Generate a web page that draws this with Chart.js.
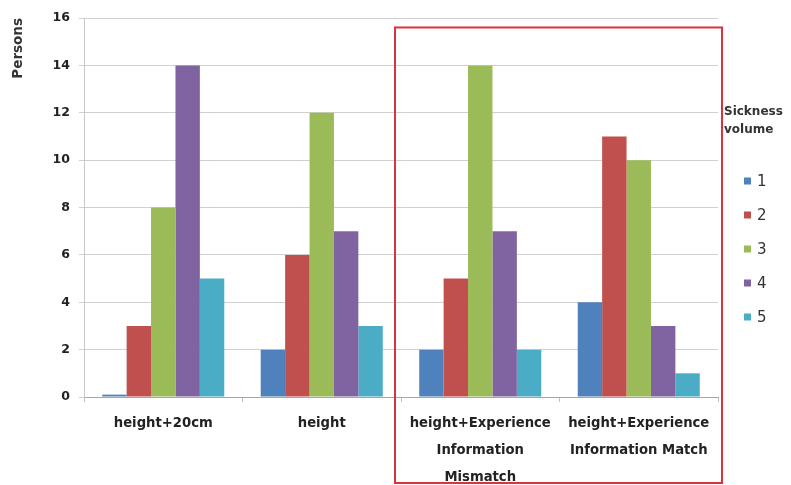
<!DOCTYPE html>
<html>
<head>
<meta charset="utf-8">
<script src="https://cdn.jsdelivr.net/npm/chart.js@4/dist/chart.umd.min.js"></script>
<style>
  html, body { margin: 0; padding: 0; background: #fff; }
  #wrap { width: 791px; height: 485px; position: relative; }
</style>
</head>
<body>
<div id="wrap"><canvas id="c" width="791" height="485"></canvas></div>
<script>
// Groups along the x axis (multi-line labels)
const categories = [
  ['height+20cm'],
  ['height'],
  ['height+Experience', 'Information', 'Mismatch'],
  ['height+Experience', 'Information Match']
];
// Sickness volume levels
const seriesNames = ['1', '2', '3', '4', '5'];
const seriesColors = ['#4F81BD', '#C0504D', '#9BBB59', '#8064A2', '#4BACC6'];
// Number of persons per level, one array per level
const level1 = [0.1, 2, 2, 4];
const level2 = [3, 6, 5, 11];
const level3 = [8, 12, 14, 10];
const level4 = [14, 7, 7, 3];
const level5 = [5, 3, 2, 1];
const yTicks = [0, 2, 4, 6, 8, 10, 12, 14, 16];

const seriesValues = [level1, level2, level3, level4, level5];
const labelFont = "'DejaVu Sans', 'Noto Sans', sans-serif";

// Red frame around the two experience-information groups, plus the side legend
const extras = {
  id: 'extras',
  afterDraw(chart) {
    const ctx = chart.ctx;
    const x = chart.scales.x, y = chart.scales.y;
    const area = chart.chartArea;
    ctx.save();
    // frame
    const left = x.getPixelForValue(1.5) - 6;
    const right = area.right + 4;
    const top = y.getPixelForValue(15.6);
    const bottom = chart.height - 2;
    ctx.strokeStyle = '#D9343C';
    ctx.lineWidth = 2;
    ctx.strokeRect(left, top, right - left, bottom - top);
    // legend title
    ctx.fillStyle = '#333';
    ctx.font = "bold 12px " + labelFont;
    ctx.textBaseline = 'middle';
    ctx.textAlign = 'left';
    ctx.fillText('Sickness', 724, 112);
    ctx.fillText('volume', 724, 130);
    // legend entries
    ctx.font = "15px " + labelFont;
    seriesNames.forEach((n, i) => {
      const cy = 181 + i * 34;
      ctx.fillStyle = seriesColors[i];
      ctx.fillRect(744, cy - 3.5, 7, 7);
      ctx.fillStyle = '#333';
      ctx.fillText(n, 757, cy + 1);
    });
    ctx.restore();
  }
};

new Chart(document.getElementById('c'), {
  type: 'bar',
  data: {
    labels: categories,
    datasets: seriesNames.map((n, i) => ({
      label: n,
      data: seriesValues[i],
      backgroundColor: seriesColors[i],
      borderWidth: 0,
      categoryPercentage: 0.77,
      barPercentage: 1
    }))
  },
  options: {
    responsive: false,
    animation: false,
    devicePixelRatio: 1,
    layout: { padding: { top: 18, right: 73, left: 0, bottom: 0 } },
    plugins: {
      legend: { display: false },
      tooltip: { enabled: false }
    },
    scales: {
      x: {
        grid: {
          offset: true,
          drawOnChartArea: false,
          drawTicks: true,
          tickLength: 5,
          color: '#BFBFBF'
        },
        border: { color: '#A6A6A6', width: 1 },
        ticks: {
          color: '#222',
          font: { family: labelFont, size: 13.2, weight: 'bold', lineHeight: 2.05 },
          padding: 8,
          maxRotation: 0,
          autoSkip: false
        },
        afterFit(s) { s.height = 88; }
      },
      y: {
        min: 0,
        max: 16,
        afterBuildTicks(s) { s.ticks = yTicks.map(v => ({ value: v })); },
        grid: { color: '#D0D0D0', tickLength: 5 },
        border: { color: '#C8C8C8', width: 1 },
        ticks: {
          color: '#222',
          font: { family: labelFont, size: 12.5, weight: 'bold' },
          padding: 9
        },
        title: {
          display: true,
          text: 'Persons',
          align: 'end',
          color: '#333',
          font: { family: labelFont, size: 13.5, weight: 'bold' },
          padding: { top: 10, bottom: 0 }
        },
        afterFit(s) { s.width = 84; }
      }
    }
  },
  plugins: [extras]
});
</script>
</body>
</html>
